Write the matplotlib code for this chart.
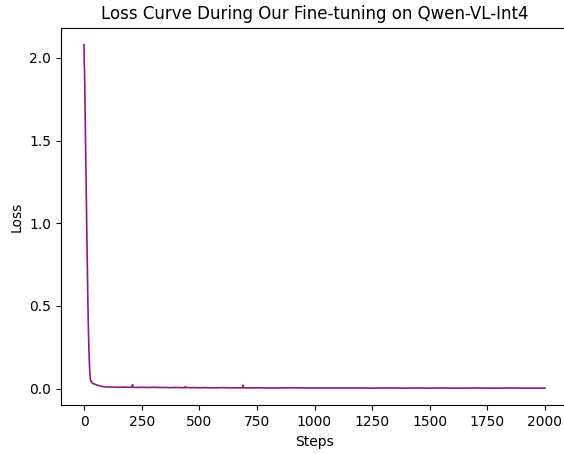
import matplotlib.pyplot as plt

# Valori: passi e loss
steps_head = [0, 1, 2, 4, 6, 8, 10, 12, 14, 16, 18, 20, 22, 24, 26, 28, 31, 35, 40,
              50, 60, 70, 80, 90, 100]
loss_head = [2.08, 1.96, 1.93, 1.75, 1.55, 1.35, 1.15, 0.95, 0.77, 0.58, 0.42, 0.30,
             0.20, 0.13, 0.08, 0.055, 0.042, 0.035, 0.030, 0.025, 0.020, 0.016, 0.013,
             0.011, 0.010]

# Coda quasi piatta, con i piccoli picchi vicino a 210, 440 e 690
steps_tail = [125, 150, 175, 200, 208, 210, 212, 225, 250, 275, 300, 325, 350, 375,
              400, 425, 438, 440, 442, 475, 500, 525, 550, 575, 600, 625, 650, 675,
              688, 690, 692, 725, 750, 800, 850, 900, 950, 1000, 1050, 1100, 1150,
              1200, 1250, 1300, 1350, 1400, 1450, 1500, 1550, 1600, 1650, 1700, 1750,
              1800, 1850, 1900, 1950, 2000]
loss_tail = [0.009, 0.008, 0.009, 0.008, 0.008, 0.024, 0.008, 0.007, 0.008, 0.007,
             0.008, 0.007, 0.007, 0.006, 0.007, 0.006, 0.006, 0.012, 0.006, 0.006,
             0.005, 0.006, 0.005, 0.005, 0.006, 0.005, 0.005, 0.005, 0.005, 0.020,
             0.005, 0.004, 0.005, 0.004, 0.004, 0.005, 0.004, 0.004, 0.004, 0.004,
             0.004, 0.004, 0.003, 0.004, 0.004, 0.003, 0.004, 0.003, 0.004, 0.003,
             0.003, 0.004, 0.003, 0.003, 0.004, 0.003, 0.003, 0.003]

steps = steps_head + steps_tail
loss = loss_head + loss_tail

fig = plt.figure(figsize=(5.64, 4.54), dpi=100)
# l'immagine originale è tagliata a destra: il bordo destro degli assi resta fuori
ax = fig.add_axes([61 / 564, 1 - 405.3 / 454, (568 - 61) / 564, (405.3 - 27.5) / 454])
ax.plot(steps, loss, color='purple', linewidth=1.2, alpha=0.9)
ax.spines['right'].set_visible(False)

ax.set_title("Loss Curve During Our Fine-tuning on Qwen-VL-Int4")
ax.set_xlabel("Steps")
ax.set_ylabel("Loss")
ax.set_xticks([0, 250, 500, 750, 1000, 1250, 1500, 1750, 2000])
ax.set_yticks([0.0, 0.5, 1.0, 1.5, 2.0])

fig.savefig("out.png", dpi=100)
